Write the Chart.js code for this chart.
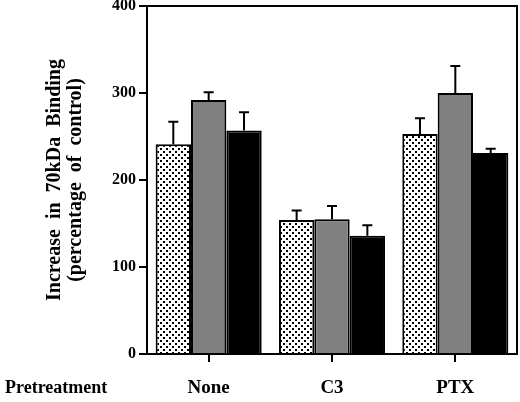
<!DOCTYPE html>
<html>
<head>
<meta charset="utf-8">
<script src="https://cdn.jsdelivr.net/npm/chart.js@4.4.0/dist/chart.umd.min.js"></script>
<style>
  html, body { margin: 0; padding: 0; background: #fff; }
  #wrap { width: 520px; height: 402px; position: relative; }
</style>
</head>
<body>
<div id="wrap"><canvas id="chart"></canvas></div>
<script>
const categories = ['None', 'C3', 'PTX'];
const dottedValues = [241, 154, 253];
const dottedErrors = [26, 11, 18];
const grayValues = [292, 155, 300];
const grayErrors = [9, 15, 31];
const blackValues = [257, 136, 231];
const blackErrors = [21, 12, 5];
const yTicks = [0, 100, 200, 300, 400];

const FONT = "'Liberation Serif', 'Times New Roman', serif";

function makeDots() {
    const c = document.createElement('canvas');
    c.width = 6;
    c.height = 6;
    const g = c.getContext('2d');
    g.fillStyle = '#fff';
    g.fillRect(0, 0, 6, 6);
    g.fillStyle = '#000';
    g.fillRect(1, 1, 2, 2);
    g.fillRect(4, 4, 2, 2);
    return g.createPattern(c, 'repeat');
}

// upward error bars with a cap
const errorBars = {
    id: 'errorBars',
    afterDatasetsDraw(chart) {
        const ctx = chart.ctx;
        const y = chart.scales.y;
        ctx.save();
        ctx.strokeStyle = '#000';
        ctx.lineWidth = 2;
        chart.data.datasets.forEach((ds, i) => {
            const meta = chart.getDatasetMeta(i);
            meta.data.forEach((bar, j) => {
                const top = y.getPixelForValue(ds.data[j] + ds.errors[j]);
                ctx.beginPath();
                ctx.moveTo(bar.x, bar.y);
                ctx.lineTo(bar.x, top);
                ctx.moveTo(bar.x - 5, top);
                ctx.lineTo(bar.x + 5, top);
                ctx.stroke();
            });
        });
        ctx.restore();
    }
};

// closes the plot box and writes the row label
const frame = {
    id: 'frame',
    afterDraw(chart) {
        const ctx = chart.ctx;
        const a = chart.chartArea;
        ctx.save();
        ctx.strokeStyle = '#000';
        ctx.lineWidth = 2;
        ctx.beginPath();
        ctx.moveTo(a.left, a.top);
        ctx.lineTo(a.right, a.top);
        ctx.lineTo(a.right, a.bottom);
        ctx.stroke();
        ctx.fillStyle = '#000';
        ctx.font = 'bold 18px ' + FONT;
        ctx.textAlign = 'left';
        ctx.textBaseline = 'middle';
        ctx.fillText('Pretreatment', 5, 388);
        ctx.restore();
    }
};

const dots = makeDots();

new Chart(document.getElementById('chart'), {
    type: 'bar',
    data: {
        labels: categories,
        datasets: [
            { data: dottedValues, errors: dottedErrors, backgroundColor: dots, borderColor: '#000', borderWidth: 2 },
            { data: grayValues, errors: grayErrors, backgroundColor: '#808080', borderColor: '#000', borderWidth: 2 },
            { data: blackValues, errors: blackErrors, backgroundColor: '#000', borderColor: '#000', borderWidth: 2 }
        ]
    },
    options: {
        responsive: true,
        maintainAspectRatio: false,
        animation: false,
        devicePixelRatio: 1,
        layout: { padding: { top: 6, right: 3, left: 0, bottom: 0 } },
        datasets: { bar: { categoryPercentage: 0.86, barPercentage: 1 } },
        plugins: { legend: { display: false }, tooltip: { enabled: false } },
        scales: {
            x: {
                offset: true,
                grid: { offset: false, drawOnChartArea: false, tickLength: 8, lineWidth: 2, color: '#000' },
                border: { display: true, width: 2, color: '#000' },
                ticks: { color: '#000', padding: 15, font: { family: FONT, size: 19, weight: 'bold' } },
                afterFit(s) { s.height = 48; s.paddingLeft = 0; s.paddingRight = 0; }
            },
            y: {
                min: 0,
                max: 400,
                afterBuildTicks(s) { s.ticks = yTicks.map(v => ({ value: v })); },
                grid: { drawOnChartArea: false, tickLength: 8, lineWidth: 2, color: '#000' },
                border: { display: true, width: 2, color: '#000' },
                ticks: { color: '#000', padding: 3, font: { family: FONT, size: 16, weight: 'bold' } },
                title: {
                    display: true,
                    text: ['Increase  in  70kDa  Binding', '(percentage  of  control)'],
                    color: '#000',
                    padding: { top: 44 },
                    font: { family: FONT, size: 20, weight: 'bold', lineHeight: 1.05 }
                },
                afterFit(s) { s.width = 147; s.paddingTop = 0; s.paddingBottom = 0; }
            }
        }
    },
    plugins: [errorBars, frame]
});
</script>
</body>
</html>
